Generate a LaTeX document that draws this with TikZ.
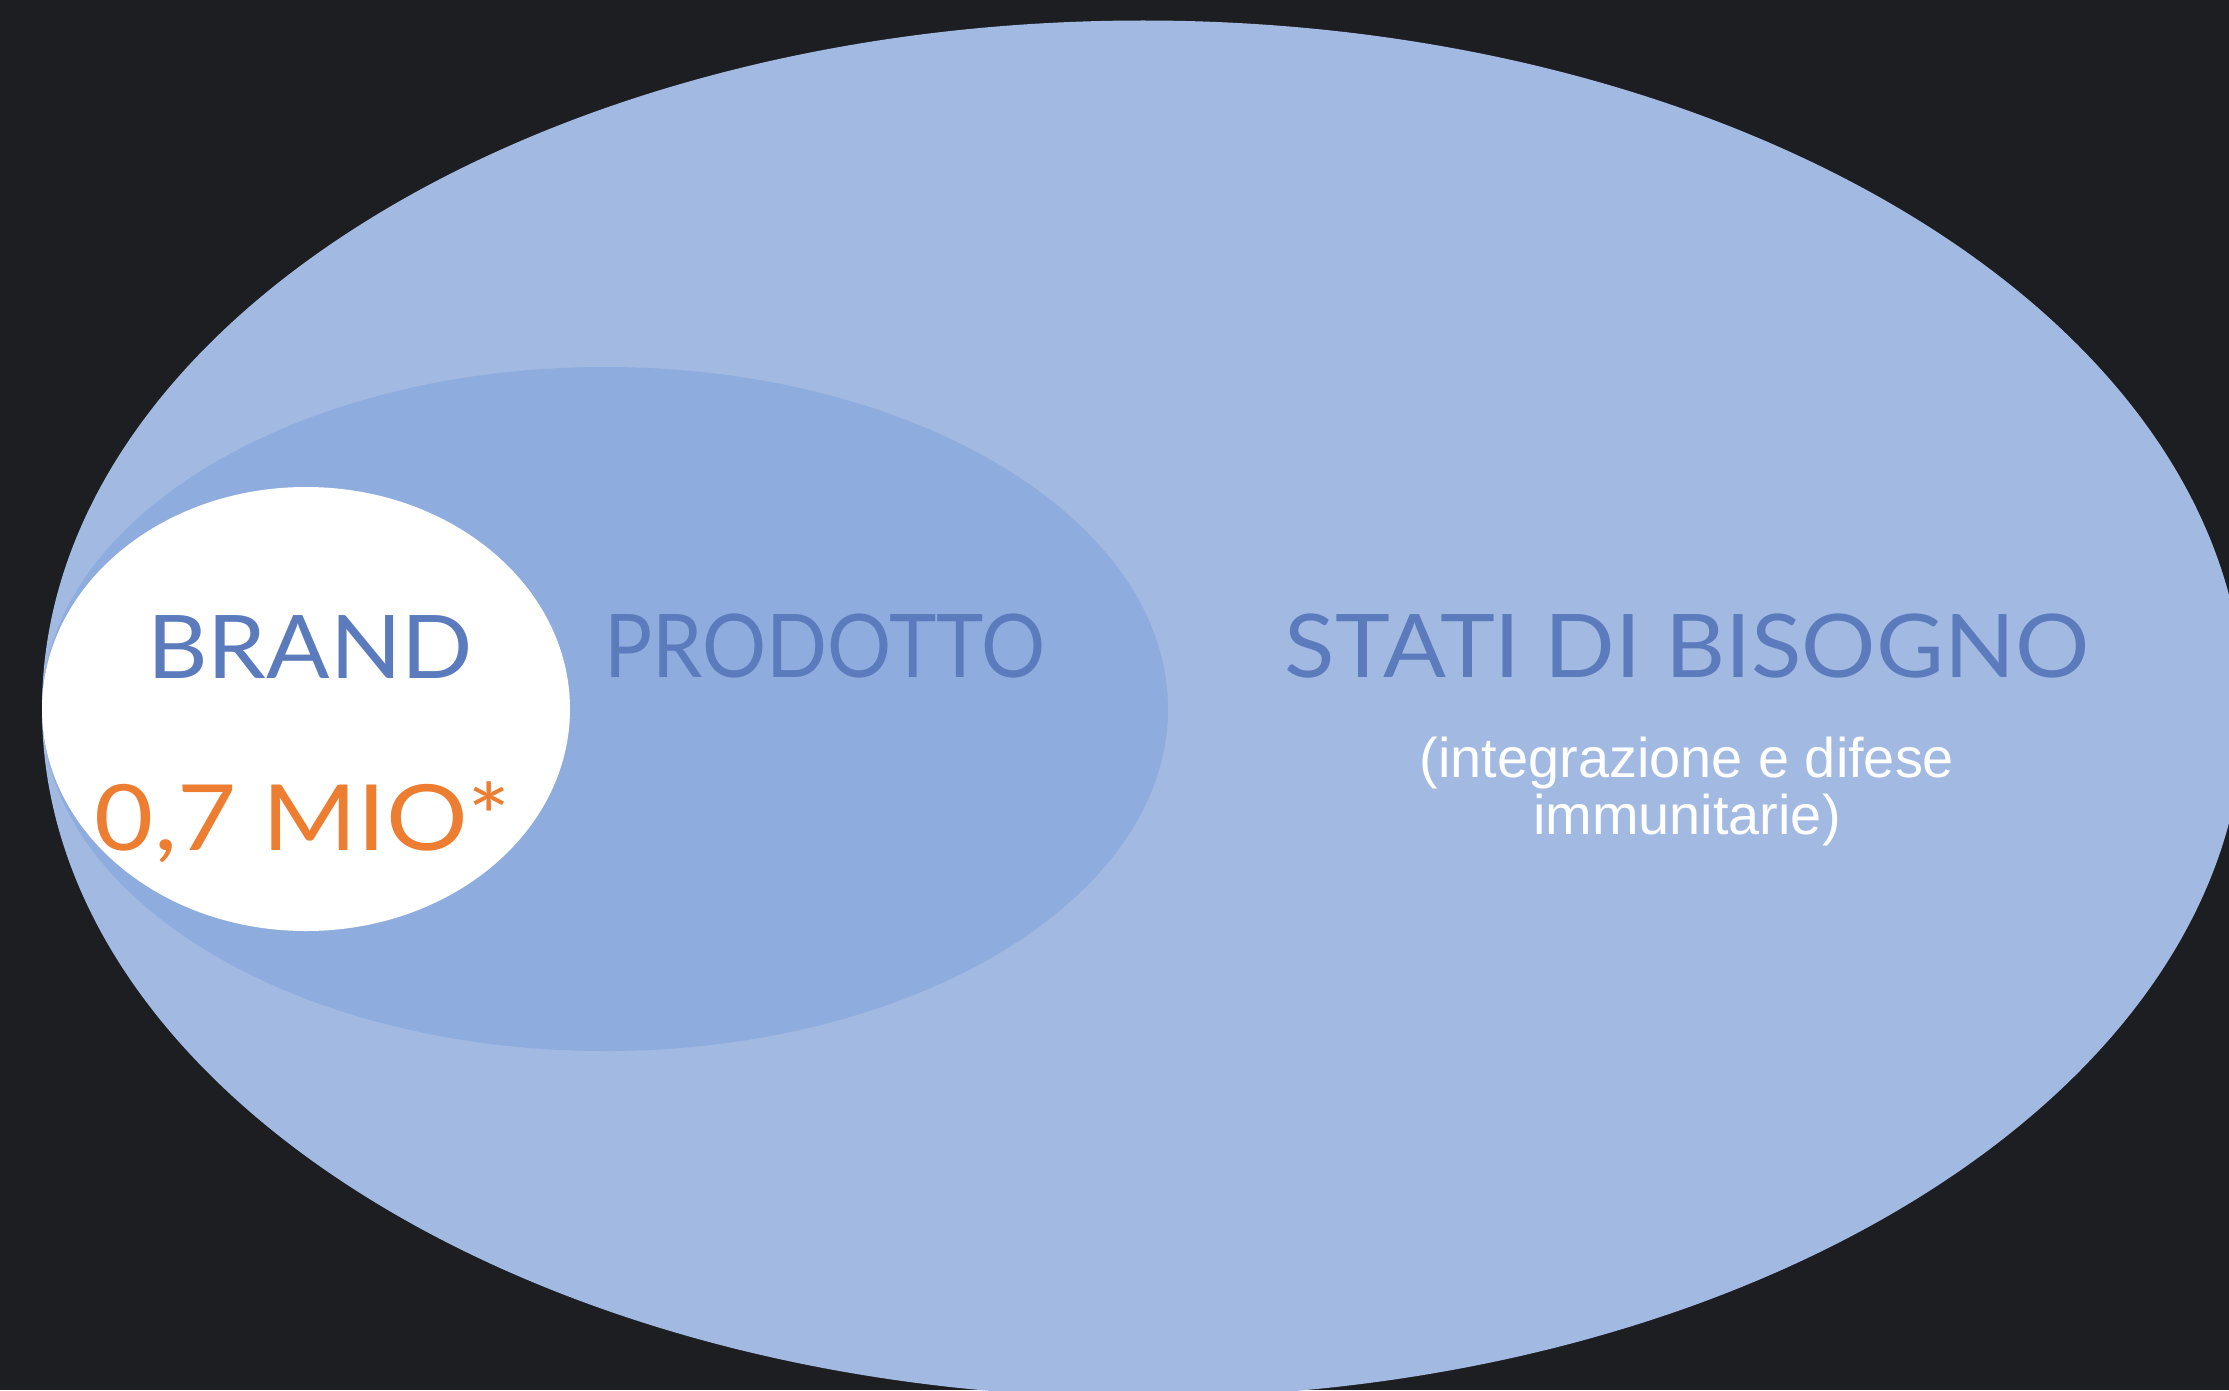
\documentclass[tikz,border=0pt]{standalone}
\usepackage{fontspec}
\usepackage{graphicx}
\setmainfont{Lato}
\newfontfamily\notefont{Liberation Sans}
\usetikzlibrary{shapes.geometric}
\definecolor{bgdark}{HTML}{1D1E22}
\definecolor{needfill}{HTML}{A2B9E2}
\definecolor{productfill}{HTML}{8FACDE}
\definecolor{brandfill}{HTML}{FFFFFF}
\definecolor{labelblue}{HTML}{5B7BBC}
\definecolor{mioorange}{HTML}{ED7D31}
\tikzset{
  zone/.style={ellipse, inner sep=0pt, draw=none},
  biglabel/.style={anchor=base, text=labelblue, font=\fontsize{25}{30}\selectfont},
  numlabel/.style={anchor=base, text=mioorange, font=\fontsize{26}{31}\selectfont},
  notelabel/.style={anchor=base, text=white, align=center, font=\notefont\fontsize{15.9}{16.2}\selectfont}
}
\begin{document}
\begin{tikzpicture}
\useasboundingbox (0,0) rectangle (22.29,13.90);
\clip (0,0) rectangle (22.29,13.90);
\fill[bgdark] (0,0) rectangle (22.29,13.90);

\node[zone, fill=needfill, minimum width=22.02cm, minimum height=13.77cm] (needs) at (11.43,6.81) {};
\node[zone, fill=productfill, minimum width=11.26cm, minimum height=6.84cm] (product) at (6.05,6.81) {};
\node[zone, fill=brandfill, minimum width=5.28cm, minimum height=4.44cm] (brand) at (3.06,6.81) {};

\node[biglabel] (brandlab) at (3.10,7.12) {\scalebox{1.068}[1]{BRAND}};
\node[numlabel] (mio) at (3.03,5.40) {\scalebox{1.117}[1]{0,7 MIO*}};
\node[biglabel] (productlab) at (8.25,7.13) {\scalebox{0.913}[1]{PRODOTTO}};
\node[biglabel] (needlab) at (16.87,7.13) {\scalebox{1.058}[1]{STATI DI BISOGNO}};
\node[notelabel] (note) at (16.87,5.56) {(integrazione e difese\\immunitarie)};

\end{tikzpicture}
\end{document}
